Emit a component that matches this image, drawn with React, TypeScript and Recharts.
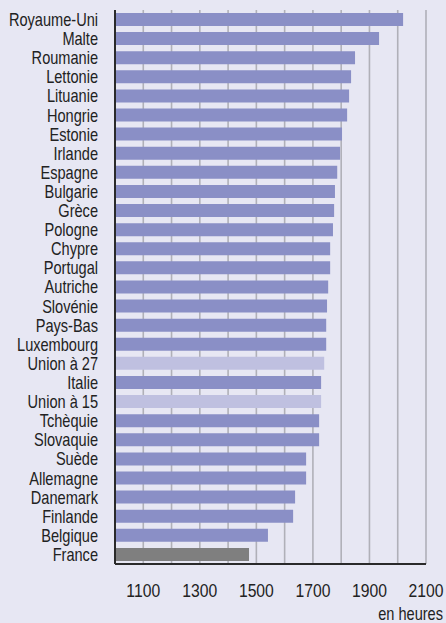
import React from "react";
import { BarChart, Bar, XAxis, YAxis, CartesianGrid, Cell, Label } from "recharts";

const countries = [
  "Royaume-Uni", "Malte", "Roumanie", "Lettonie", "Lituanie", "Hongrie", "Estonie", "Irlande",
  "Espagne", "Bulgarie", "Grèce", "Pologne", "Chypre", "Portugal", "Autriche", "Slovénie",
  "Pays-Bas", "Luxembourg", "Union à 27", "Italie", "Union à 15", "Tchèquie", "Slovaquie",
  "Suède", "Allemagne", "Danemark", "Finlande", "Belgique", "France",
];
const hours = [
  2019, 1934, 1849, 1835, 1828, 1821, 1803, 1796,
  1786, 1778, 1775, 1771, 1761, 1761, 1754, 1750,
  1747, 1747, 1740, 1729, 1729, 1722, 1722,
  1676, 1676, 1637, 1630, 1541, 1474,
];
const unions = ["Union à 27", "Union à 15"];
const focus = "France";
const gridTicks = [1000, 1100, 1200, 1300, 1400, 1500, 1600, 1700, 1800, 1900, 2000, 2100];
const labelTicks = [1100, 1300, 1500, 1700, 1900, 2100];
const unitLabel = "en heures";

const data = countries.map((name, i) => ({ name, value: hours[i] }));

const FONT = "'Liberation Sans', Arial, sans-serif";
const BG = "#e7e7f3";
const BAR = "#8a8fc6";
const BAR_UNION = "#bfc0e0";
const BAR_FOCUS = "#7f7f7f";
const GRID = "#b0b0b8";
const TEXT = "#222";

function NarrowText({ x, y, anchor, size, squeeze, children }: any) {
  return (
    <g transform={`translate(${x},${y}) scale(${squeeze},1)`}>
      <text x={0} y={0} dy="0.36em" textAnchor={anchor} fill={TEXT} fontSize={size} fontFamily={FONT}>
        {children}
      </text>
    </g>
  );
}

const YTick = (props: any) => {
  const { x, y, payload } = props;
  return <NarrowText x={x} y={y} anchor="end" size={18} squeeze={0.81}>{payload.value}</NarrowText>;
};

const XTick = (props: any) => {
  const { x, y, payload } = props;
  if (!labelTicks.includes(payload.value)) return <g />;
  return <NarrowText x={x} y={y + 26} anchor="middle" size={18.5} squeeze={0.85}>{String(payload.value)}</NarrowText>;
};

const UnitLabel = (props: any) => {
  const { viewBox } = props;
  const { x, y, width, height } = viewBox;
  return <NarrowText x={x + width + 17} y={y + height - 9} anchor="end" size={18} squeeze={0.81}>{unitLabel}</NarrowText>;
};

export default function App() {
  return (
    <div style={{ position: "absolute", left: 0, top: 0, width: 446, height: 623, background: BG }}>
      <BarChart
        width={446}
        height={623}
        data={data}
        layout="vertical"
        margin={{ top: 10, right: 20, bottom: 0, left: 0 }}
        barSize={13}
      >
        <CartesianGrid horizontal={false} vertical stroke={GRID} strokeWidth={1.6} />
        <XAxis
          type="number"
          dataKey="value"
          domain={[1000, 2100]}
          ticks={gridTicks}
          allowDataOverflow
          interval={0}
          height={59}
          tickSize={0}
          tickMargin={0}
          tickLine={false}
          axisLine={{ stroke: "#2a2a2a", strokeWidth: 1.8 }}
          tick={<XTick />}
        >
          <Label content={<UnitLabel />} position="insideBottomRight" />
        </XAxis>
        <XAxis
          xAxisId="top"
          orientation="top"
          type="number"
          domain={[1000, 2100]}
          height={0}
          tick={false}
          tickLine={false}
          axisLine={{ stroke: GRID, strokeWidth: 2 }}
        />
        <YAxis
          type="category"
          dataKey="name"
          width={115}
          interval={0}
          tickSize={0}
          tickMargin={17}
          tickLine={false}
          axisLine={{ stroke: "#2a2a2a", strokeWidth: 2 }}
          tick={<YTick />}
        />
        <YAxis
          yAxisId="right"
          orientation="right"
          type="category"
          dataKey="name"
          width={0}
          tick={false}
          tickLine={false}
          axisLine={{ stroke: GRID, strokeWidth: 2.2 }}
        />
        <Bar dataKey="value" isAnimationActive={false}>
          {data.map((d) => (
            <Cell
              key={d.name}
              fill={d.name === focus ? BAR_FOCUS : unions.includes(d.name) ? BAR_UNION : BAR}
            />
          ))}
        </Bar>
      </BarChart>
    </div>
  );
}
